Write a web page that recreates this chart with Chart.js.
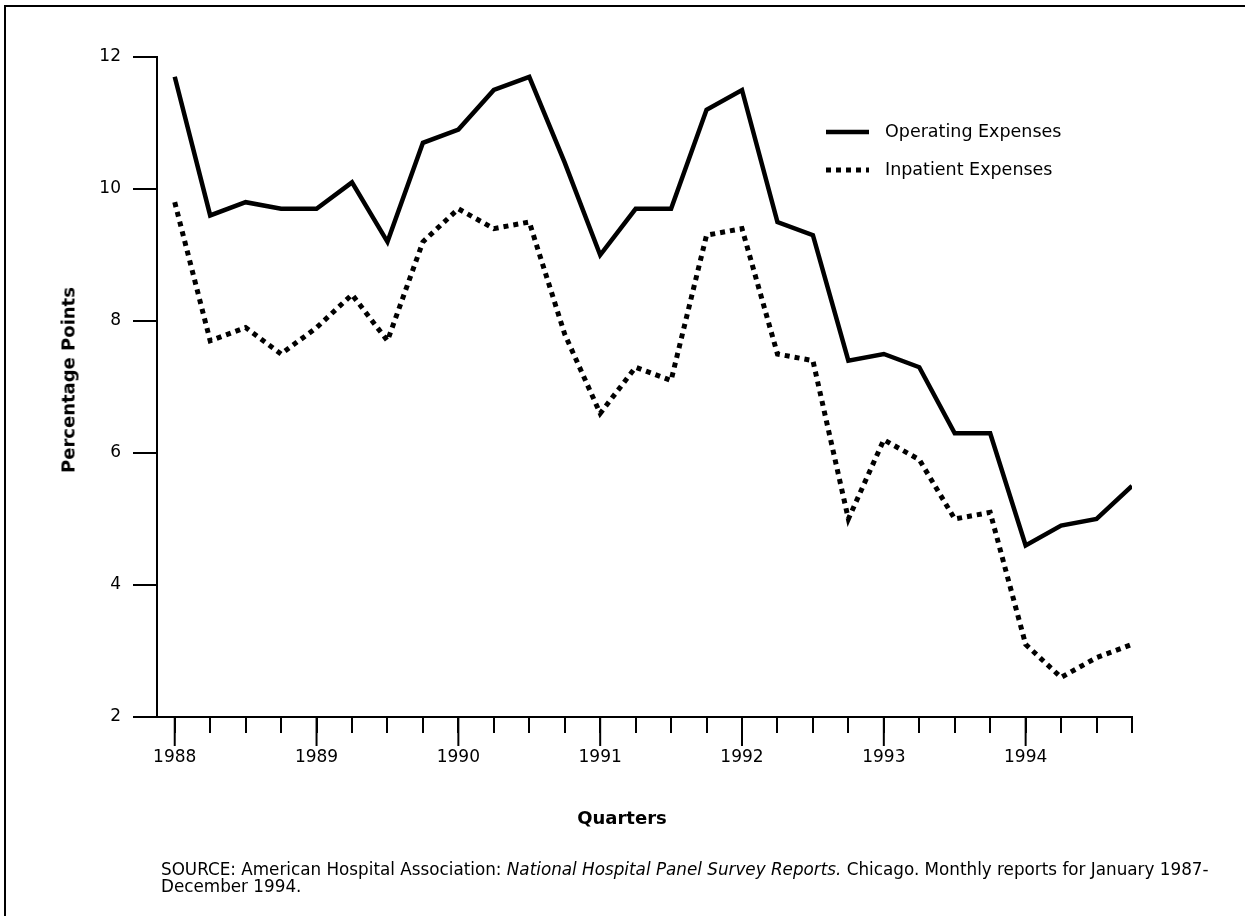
<!DOCTYPE html>
<html>
<head>
<meta charset="utf-8">
<script src="https://cdn.jsdelivr.net/npm/chart.js@4.4.1/dist/chart.umd.min.js"></script>
<style>
  html, body { margin: 0; padding: 0; background: #fff; }
  #frame { position: absolute; left: 4px; top: 5px; width: 1241px; height: 911px;
           border-left: 2px solid #000; border-top: 2px solid #000; }
  #chart { position: absolute; left: 0; top: 0; }
  .txt { position: absolute; font-family: "DejaVu Sans", sans-serif; color: #000; white-space: nowrap; }
  #ytitle { left: 68px; top: 380px; transform: translate(-50%, -50%) rotate(-90deg); font-weight: bold; font-size: 18px; }
  #xtitle { left: 622px; top: 817px; transform: translate(-50%, -50%); font-weight: bold; font-size: 18px; }
  #source { left: 161px; top: 861px; font-size: 16.8px; line-height: 16.5px; }
</style>
</head>
<body>
<div id="frame"></div>
<canvas id="chart" width="1245" height="916"></canvas>
<div class="txt" id="ytitle">Percentage Points</div>
<div class="txt" id="xtitle">Quarters</div>
<div class="txt" id="source">SOURCE: American Hospital Association: <i>National Hospital Panel Survey Reports.</i> Chicago. Monthly reports for January 1987-<br>December 1994.</div>
<script>
// quarters 1988 Q1 .. 1994 Q4
const quarters = [
  '88Q1','88Q2','88Q3','88Q4','89Q1','89Q2','89Q3','89Q4',
  '90Q1','90Q2','90Q3','90Q4','91Q1','91Q2','91Q3','91Q4',
  '92Q1','92Q2','92Q3','92Q4','93Q1','93Q2','93Q3','93Q4',
  '94Q1','94Q2','94Q3','94Q4'
];
const yearLabels = ['1988', '1989', '1990', '1991', '1992', '1993', '1994'];
const yTicks = [2, 4, 6, 8, 10, 12];

const operating = [11.7, 9.6, 9.8, 9.7, 9.7, 10.1, 9.2, 10.7, 10.9, 11.5, 11.7, 10.4, 9.0, 9.7,
                   9.7, 11.2, 11.5, 9.5, 9.3, 7.4, 7.5, 7.3, 6.3, 6.3, 4.6, 4.9, 5.0, 5.5];
const inpatient = [9.8, 7.7, 7.9, 7.5, 7.9, 8.4, 7.7, 9.2, 9.7, 9.4, 9.5, 7.8, 6.6, 7.3,
                   7.1, 9.3, 9.4, 7.5, 7.4, 5.0, 6.2, 5.9, 5.0, 5.1, 3.1, 2.6, 2.9, 3.1];

const seriesNames = ['Operating Expenses', 'Inpatient Expenses'];

const tickFont = { family: '"DejaVu Sans", sans-serif', size: 17 };

// long ticks under each year
const yearTickPlugin = {
  id: 'yearTicks',
  afterDraw(chart) {
    const xs = chart.scales.x, ctx = chart.ctx;
    ctx.save();
    ctx.strokeStyle = '#000';
    ctx.lineWidth = 2;
    quarters.forEach((q, i) => {
      if (i % 4 !== 0) return;
      const px = xs.getPixelForValue(i);
      ctx.beginPath();
      ctx.moveTo(px, xs.top);
      ctx.lineTo(px, xs.top + 29);
      ctx.stroke();
    });
    ctx.restore();
  }
};

// legend inside the plot, top right
const insideLegend = {
  id: 'insideLegend',
  afterDraw(chart) {
    const ctx = chart.ctx;
    ctx.save();
    chart.data.datasets.forEach((ds, i) => {
      const y = 132 + i * 38;
      ctx.strokeStyle = ds.borderColor;
      ctx.lineWidth = ds.borderWidth;
      ctx.setLineDash(ds.borderDash || []);
      ctx.beginPath();
      ctx.moveTo(826, y);
      ctx.lineTo(869, y);
      ctx.stroke();
      ctx.setLineDash([]);
      ctx.fillStyle = '#000';
      ctx.font = '17.5px "DejaVu Sans", sans-serif';
      ctx.textBaseline = 'middle';
      ctx.fillText(ds.label, 885, y);
    });
    ctx.restore();
  }
};

const ctx = document.getElementById('chart').getContext('2d');
new Chart(ctx, {
  type: 'line',
  data: {
    datasets: [{
      label: seriesNames[0],
      data: operating.map((v, i) => ({ x: i, y: v })),
      borderColor: '#000',
      borderWidth: 4.5,
      pointRadius: 0,
      tension: 0,
      borderJoinStyle: 'miter'
    }, {
      label: seriesNames[1],
      data: inpatient.map((v, i) => ({ x: i, y: v })),
      borderColor: '#000',
      borderWidth: 5,
      borderDash: [5, 5],
      pointRadius: 0,
      tension: 0
    }]
  },
  options: {
    responsive: false,
    animation: false,
    devicePixelRatio: 1,
    layout: { padding: { left: 0, top: 57, right: 113, bottom: 139 } },
    plugins: { legend: { display: false }, tooltip: { enabled: false } },
    scales: {
      x: {
        type: 'linear',
        min: -0.5,
        max: quarters.length - 1,
        afterBuildTicks: s => { s.ticks = quarters.map((q, i) => ({ value: i })); },
        afterFit: s => { s.height = 60; },
        ticks: {
          autoSkip: false,
          maxRotation: 0,
          padding: 14,
          color: '#000',
          font: tickFont,
          callback: v => (v % 4 === 0 ? yearLabels[v / 4] : '')
        },
        grid: { drawOnChartArea: false, tickLength: 16, color: '#000', lineWidth: 2 },
        border: { color: '#000', width: 2 }
      },
      y: {
        min: 2,
        max: 12,
        afterBuildTicks: s => { s.ticks = yTicks.map(v => ({ value: v })); },
        afterFit: s => { s.width = 157; },
        ticks: {
          padding: 12,
          color: '#000',
          font: tickFont
        },
        grid: { drawOnChartArea: false, tickLength: 24, color: '#000', lineWidth: 2 },
        border: { color: '#000', width: 2 }
      }
    }
  },
  plugins: [yearTickPlugin, insideLegend]
});
</script>
</body>
</html>
